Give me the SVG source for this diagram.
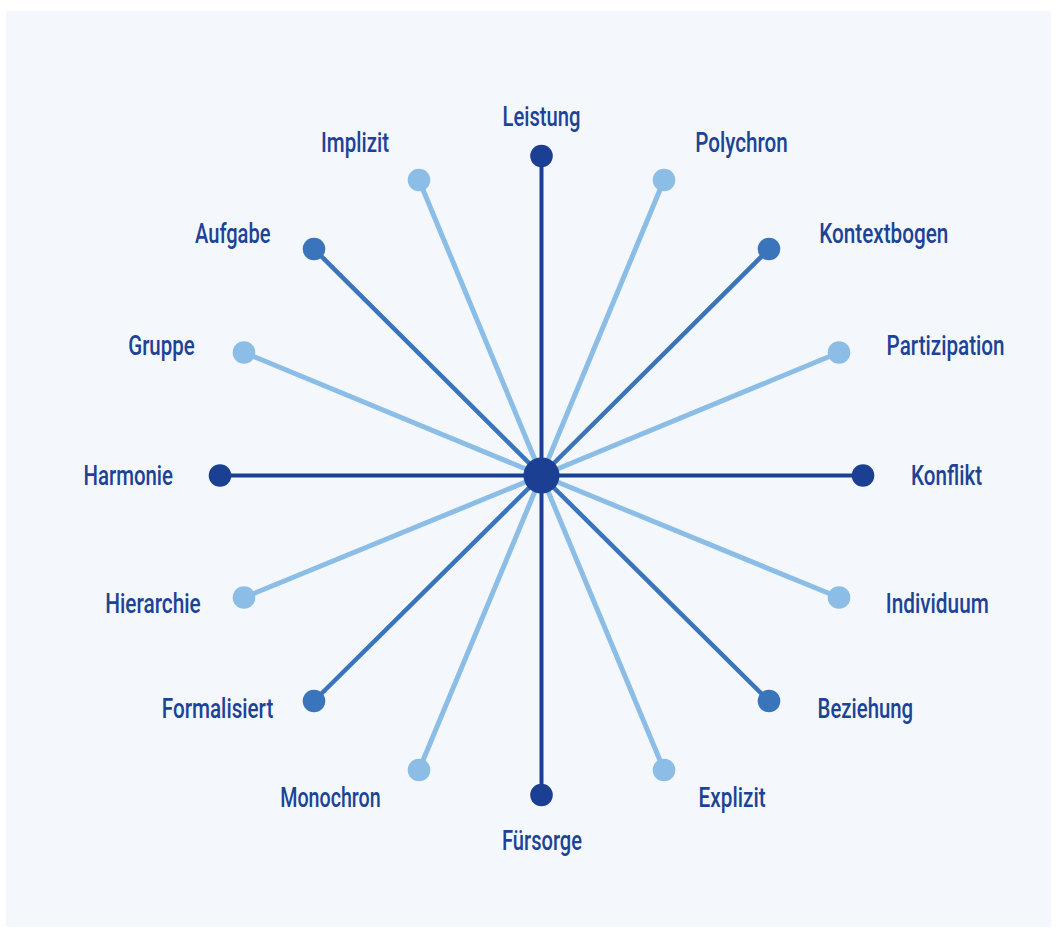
<svg xmlns="http://www.w3.org/2000/svg" width="1057" height="929" viewBox="0 0 1057 929">
  <style>
    .lbl { font-family: Roboto, "Liberation Sans", sans-serif; font-weight: 500; font-size: 27px; fill: #1c4396; }
    .l-dark { stroke: #1a3f93; stroke-width: 4; stroke-linecap: round; }
    .l-mid { stroke: #3a74ba; stroke-width: 4.5; stroke-linecap: round; }
    .l-light { stroke: #8bbde6; stroke-width: 5; stroke-linecap: round; }
    .d-dark { fill: #1a3f93; }
    .d-mid { fill: #3a74ba; }
    .d-light { fill: #8bbde6; }
  </style>

  <rect x="0" y="0" width="1057" height="929" fill="#ffffff"/>
  <rect x="6" y="11" width="1045" height="916" fill="#f4f8fd"/>

  <!-- spokes from the hub -->
  <g id="connectors">
    <line class="l-light" x1="541.5" y1="475.5" x2="664" y2="180"/>
    <line class="l-light" x1="541.5" y1="475.5" x2="419" y2="180"/>
    <line class="l-light" x1="541.5" y1="475.5" x2="839" y2="352.5"/>
    <line class="l-light" x1="541.5" y1="475.5" x2="244" y2="352.5"/>
    <line class="l-light" x1="541.5" y1="475.5" x2="839" y2="597.5"/>
    <line class="l-light" x1="541.5" y1="475.5" x2="244" y2="597.5"/>
    <line class="l-light" x1="541.5" y1="475.5" x2="664" y2="770"/>
    <line class="l-light" x1="541.5" y1="475.5" x2="419" y2="770"/>
    <line class="l-mid" x1="541.5" y1="475.5" x2="769" y2="249"/>
    <line class="l-mid" x1="541.5" y1="475.5" x2="314" y2="249"/>
    <line class="l-mid" x1="541.5" y1="475.5" x2="769" y2="701"/>
    <line class="l-mid" x1="541.5" y1="475.5" x2="314" y2="701"/>
    <line class="l-dark" x1="541.5" y1="475.5" x2="541.5" y2="156"/>
    <line class="l-dark" x1="541.5" y1="475.5" x2="541.5" y2="795"/>
    <line class="l-dark" x1="541.5" y1="475.5" x2="220" y2="475.5"/>
    <line class="l-dark" x1="541.5" y1="475.5" x2="863" y2="475.5"/>
  </g>

  <g id="hub"><circle class="d-dark" cx="541.5" cy="475.5" r="18"/></g>

  <g id="leistung"><circle class="d-dark" cx="541.5" cy="156" r="11.3"/>
    <text class="lbl" x="541.5" y="126" text-anchor="middle" textLength="78" lengthAdjust="spacingAndGlyphs">Leistung</text></g>
  <g id="fuersorge"><circle class="d-dark" cx="541.5" cy="795" r="11.3"/>
    <text class="lbl" x="542" y="850" text-anchor="middle" textLength="80" lengthAdjust="spacingAndGlyphs">Fürsorge</text></g>
  <g id="harmonie"><circle class="d-dark" cx="220" cy="475.5" r="11.3"/>
    <text class="lbl" x="173" y="484.5" text-anchor="end" textLength="89.5" lengthAdjust="spacingAndGlyphs">Harmonie</text></g>
  <g id="konflikt"><circle class="d-dark" cx="863" cy="475.5" r="11.3"/>
    <text class="lbl" x="911" y="484.5" textLength="71" lengthAdjust="spacingAndGlyphs">Konflikt</text></g>

  <g id="kontextbogen"><circle class="d-mid" cx="769" cy="249" r="11.3"/>
    <text class="lbl" x="819.3" y="242.5" textLength="129" lengthAdjust="spacingAndGlyphs">Kontextbogen</text></g>
  <g id="aufgabe"><circle class="d-mid" cx="314" cy="249" r="11.3"/>
    <text class="lbl" x="270.5" y="242.5" text-anchor="end" textLength="75.5" lengthAdjust="spacingAndGlyphs">Aufgabe</text></g>
  <g id="beziehung"><circle class="d-mid" cx="769" cy="701" r="11.3"/>
    <text class="lbl" x="817.6" y="717.7" textLength="95.5" lengthAdjust="spacingAndGlyphs">Beziehung</text></g>
  <g id="formalisiert"><circle class="d-mid" cx="314" cy="701" r="11.3"/>
    <text class="lbl" x="273.3" y="717.7" text-anchor="end" textLength="111.5" lengthAdjust="spacingAndGlyphs">Formalisiert</text></g>

  <g id="polychron"><circle class="d-light" cx="664" cy="180" r="11.3"/>
    <text class="lbl" x="695.3" y="152.3" textLength="92.5" lengthAdjust="spacingAndGlyphs">Polychron</text></g>
  <g id="implizit"><circle class="d-light" cx="419" cy="180" r="11.3"/>
    <text class="lbl" x="389" y="152.3" text-anchor="end" textLength="68" lengthAdjust="spacingAndGlyphs">Implizit</text></g>
  <g id="partizipation"><circle class="d-light" cx="839" cy="352.5" r="11.3"/>
    <text class="lbl" x="886.6" y="355" textLength="118" lengthAdjust="spacingAndGlyphs">Partizipation</text></g>
  <g id="gruppe"><circle class="d-light" cx="244" cy="352.5" r="11.3"/>
    <text class="lbl" x="194.7" y="355" text-anchor="end" textLength="66.5" lengthAdjust="spacingAndGlyphs">Gruppe</text></g>
  <g id="individuum"><circle class="d-light" cx="839" cy="597.5" r="11.3"/>
    <text class="lbl" x="885.8" y="613" textLength="103" lengthAdjust="spacingAndGlyphs">Individuum</text></g>
  <g id="hierarchie"><circle class="d-light" cx="244" cy="597.5" r="11.3"/>
    <text class="lbl" x="200.7" y="613" text-anchor="end" textLength="95.5" lengthAdjust="spacingAndGlyphs">Hierarchie</text></g>
  <g id="explizit"><circle class="d-light" cx="664" cy="770" r="11.3"/>
    <text class="lbl" x="698.6" y="806.5" textLength="67" lengthAdjust="spacingAndGlyphs">Explizit</text></g>
  <g id="monochron"><circle class="d-light" cx="419" cy="770" r="11.3"/>
    <text class="lbl" x="380.7" y="806.5" text-anchor="end" textLength="100.5" lengthAdjust="spacingAndGlyphs">Monochron</text></g>
</svg>
